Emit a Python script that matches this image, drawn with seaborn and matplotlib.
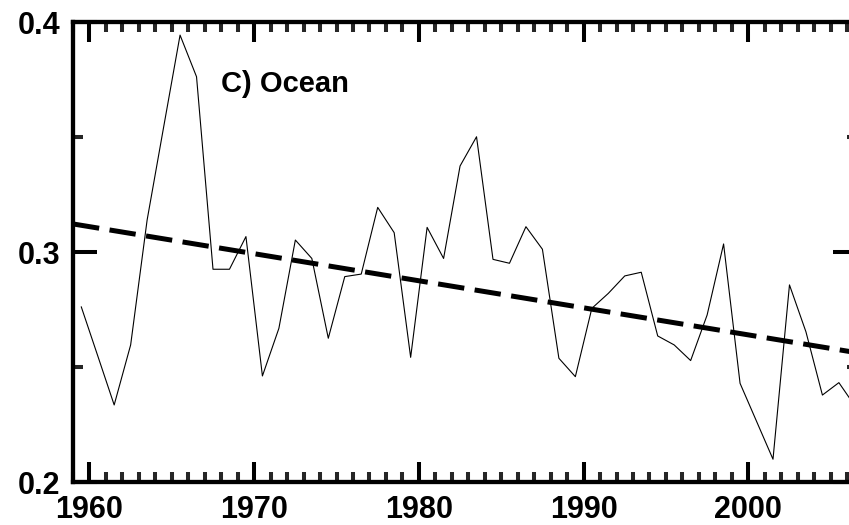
import numpy as np
import pandas as pd
import seaborn as sns
import matplotlib
matplotlib.use("Agg")
import matplotlib.pyplot as plt
from matplotlib.ticker import MultipleLocator, FixedLocator

# ---- data (annual values, plotted at mid-year) ----
years = list(range(1959, 2007))
ocean_values = [
    0.2762, 0.2549, 0.2335, 0.2596, 0.3139, 0.3542, 0.3943, 0.3762,
    0.2925, 0.2925, 0.3067, 0.2461, 0.2668, 0.3052, 0.2972, 0.2625,
    0.2893, 0.2904, 0.3194, 0.3084, 0.2542, 0.3107, 0.2972, 0.3374,
    0.3501, 0.2968, 0.2951, 0.3110, 0.3012, 0.2538, 0.2458, 0.2755,
    0.2820, 0.2896, 0.2912, 0.2635, 0.2596, 0.2528, 0.2726, 0.3035,
    0.2429, 0.2264, 0.2099, 0.2857, 0.2653, 0.2378, 0.2432, 0.2328,
]
trend_years = [1959, 2006.6]
trend_values = [0.3122, 0.2562]
panel_label = "C) Ocean"
x_ticks = [1960, 1970, 1980, 1990, 2000]
y_ticks = [0.2, 0.3, 0.4]
y_tick_labels = ["0.2", "0.3", "0.4"]

sns.set_style("ticks")
plt.rcParams["font.family"] = ["Liberation Sans", "DejaVu Sans"]
plt.rcParams["font.weight"] = "bold"

df = pd.DataFrame({"year": np.array(years) + 0.5, "value": ocean_values})
tr = pd.DataFrame({"year": trend_years, "value": trend_values})

fig = plt.figure(figsize=(8.49, 5.25), dpi=100)
ax = fig.add_axes([73 / 849, 43 / 525, 784 / 849, 460 / 525])

sns.lineplot(data=df, x="year", y="value", ax=ax, color="black", linewidth=0.8)
sns.lineplot(data=tr, x="year", y="value", ax=ax, color="black", linewidth=3.6,
             dashes=False)
ax.lines[-1].set_dashes((5.3, 2.1))
ax.lines[-1].set_dash_capstyle("butt")

ax.set_xlim(1959, 2006.6)
ax.set_ylim(0.2, 0.4)
ax.set_xlabel("")
ax.set_ylabel("")

ax.xaxis.set_major_locator(FixedLocator(x_ticks))
ax.xaxis.set_minor_locator(MultipleLocator(1))
ax.yaxis.set_major_locator(FixedLocator(y_ticks))
ax.set_yticklabels(y_tick_labels)
ax.yaxis.set_minor_locator(FixedLocator([0.25, 0.35]))

for sp in ["left", "bottom", "top"]:
    ax.spines[sp].set_linewidth(3.1)
    ax.spines[sp].set_color("black")
ax.spines["right"].set_visible(False)

ax.tick_params(axis="x", which="major", direction="in", length=14.4, width=2.9,
               top=True, bottom=True, pad=9, labelsize=22, colors="black")
ax.tick_params(axis="x", which="minor", direction="in", length=7, width=2.9,
               top=True, bottom=True)
ax.tick_params(axis="y", which="major", direction="in", length=17.3, width=2.9,
               left=True, right=True, pad=9, labelsize=22, colors="black")
ax.tick_params(axis="y", which="minor", direction="in", length=7.2, width=2.9,
               left=True, right=True)
for lab in ax.get_xticklabels() + ax.get_yticklabels():
    lab.set_fontweight("bold")

ax.text(0.1887, 0.848, panel_label, transform=ax.transAxes, fontsize=21,
        fontweight="bold", ha="left", va="baseline", color="black")

fig.savefig("out.png", dpi=100)
